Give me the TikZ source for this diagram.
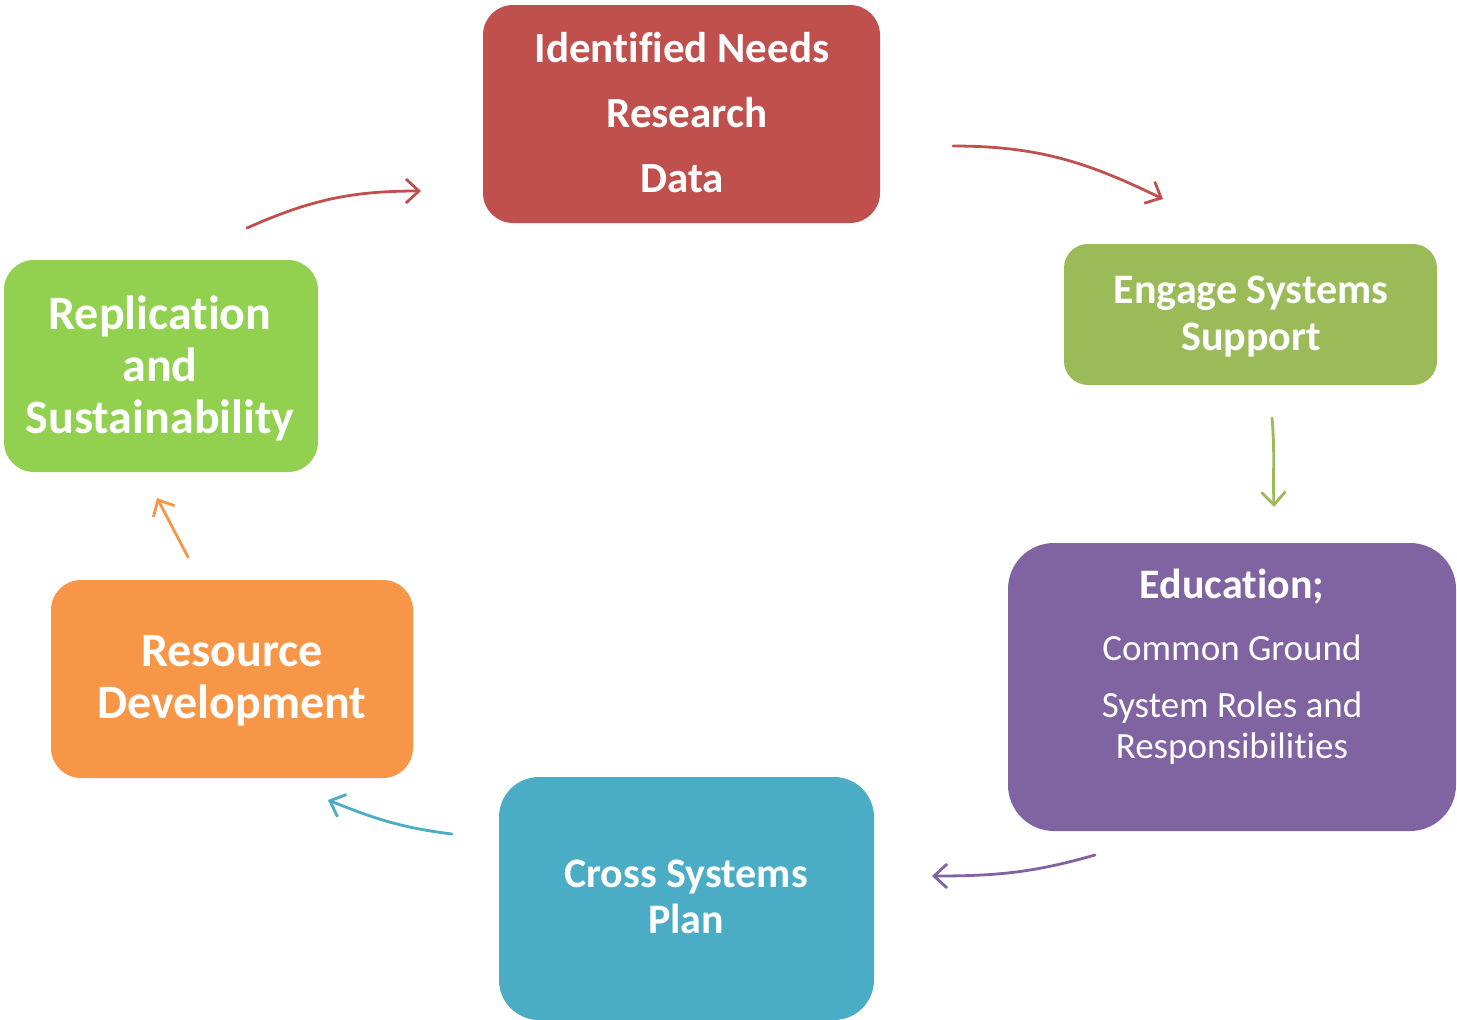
\documentclass[tikz,border=0pt]{standalone}
\usepackage{fontspec}
\setmainfont{Carlito}[Ligatures=NoCommon]
\usetikzlibrary{arrows.meta}
\definecolor{cred}{HTML}{C0504D}
\definecolor{colive}{HTML}{9BBB59}
\definecolor{cpurple}{HTML}{8064A2}
\definecolor{cblue}{HTML}{4BACC6}
\definecolor{corange}{HTML}{F79646}
\definecolor{cgreen}{HTML}{92D050}
\tikzset{
  stagebox/.style={draw=none, inner sep=0pt, outer sep=0pt},
  stagetext/.style={text=white, align=center, inner sep=0pt},
  cyclearrow/.style={line width=2.8pt, line cap=round,
    -{Straight Barb[length=13pt,width=24pt,line width=2.8pt]}},
}
\begin{document}
\begin{tikzpicture}[x=1pt,y=-1pt]
\useasboundingbox (0,0) rectangle (1457,1020);
% boxes
\fill[cred, rounded corners=30pt] (483,5) rectangle (880,223);
\node[stagebox] (needs) at (681.5,114) {};
\fill[colive, rounded corners=24pt] (1064,244) rectangle (1437,385);
\node[stagebox] (engage) at (1250.5,314.5) {};
\fill[cpurple, rounded corners=46pt] (1008,543) rectangle (1456,831);
\node[stagebox] (edu) at (1232,687) {};
\fill[cblue, rounded corners=40pt] (499,777) rectangle (874,1020);
\node[stagebox] (cross) at (686.5,898) {};
\fill[corange, rounded corners=30pt] (51,580) rectangle (413,778);
\node[stagebox] (resource) at (232,679) {};
\fill[cgreen, rounded corners=30pt] (4,260) rectangle (318,472);
\node[stagebox] (repl) at (161,366) {};
% texts
\node[stagetext, font=\fontsize{43}{65}\selectfont\bfseries] (needs-t) at (682,113)
  {Identified Needs\\\hspace*{10pt}Research\\Data};
\node[stagetext, font=\fontsize{42}{47}\selectfont\bfseries] (engage-t) at (1251,317)
  {Engage Systems\\Support};
\node[stagetext, font=\fontsize{48}{52}\selectfont\bfseries] (repl-t) at (160,368)
  {Replication\\and\\Sustainability};
\node[stagetext, font=\fontsize{48}{52}\selectfont\bfseries] (resource-t) at (232,681)
  {Resource\\Development};
\node[stagetext, font=\fontsize{42}{46}\selectfont\bfseries] (cross-t) at (686,897)
  {Cross Systems\\Plan};
\node[stagetext, font=\fontsize{37}{41}\selectfont] (edu-t) at (1232,667)
  {{\fontsize{42}{41}\selectfont\bfseries Education;}\\[21pt]Common Ground\\[16pt]System Roles and\\Responsibilities};
% arrow end points
\coordinate (a1s) at (953,146);  \coordinate (a1e) at (1163,199);
\coordinate (a2s) at (1272,418); \coordinate (a2e) at (1274,507);
\coordinate (a3s) at (1095,855); \coordinate (a3e) at (932,876);
\coordinate (a4s) at (452,834);  \coordinate (a4e) at (328,800);
\coordinate (a5s) at (188,557);  \coordinate (a5e) at (157,498);
\coordinate (a6s) at (247,228);  \coordinate (a6e) at (421,191);
% arrows
\draw[cyclearrow, cred] (a1s) to[out=0, in=154] (a1e);
\draw[cyclearrow, colive] (a2s) to[out=-85, in=92] (a2e);
\draw[cyclearrow, cpurple] (a3s) to[out=196, in=0] (a3e);
\draw[cyclearrow, cblue] (a4s) to[out=173, in=-22] (a4e);
\draw[cyclearrow, corange] (a5s) -- (a5e);
\draw[cyclearrow, cred] (a6s) to[out=24, in=180] (a6e);
\end{tikzpicture}
\end{document}
